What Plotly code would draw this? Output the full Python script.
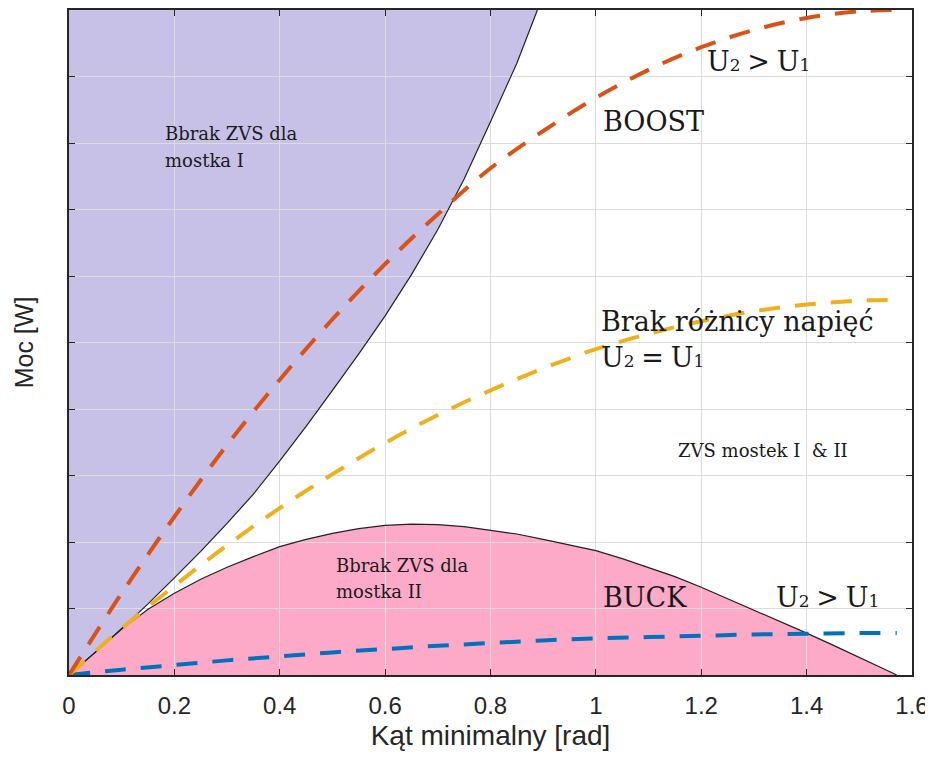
import plotly.graph_objects as go

# ---- data ----
angle = [0, 0.1, 0.2, 0.3, 0.4, 0.5, 0.6, 0.7, 0.8, 0.9, 1.0, 1.1, 1.2, 1.3, 1.4, 1.5, 1.571]
p_boost = [0, 1.23, 2.38, 3.46, 4.44, 5.35, 6.18, 6.93, 7.62, 8.18, 8.68, 9.10, 9.44, 9.70, 9.88, 9.98, 10.0]
p_equal = [0, 0.70, 1.34, 1.95, 2.51, 3.02, 3.49, 3.91, 4.28, 4.61, 4.90, 5.13, 5.32, 5.47, 5.57, 5.63, 5.64]
p_buck = [0, 0.08, 0.15, 0.22, 0.28, 0.34, 0.39, 0.44, 0.48, 0.52, 0.55, 0.57, 0.59, 0.61, 0.62, 0.63, 0.63]

bnd1_x = [0, 0.05, 0.1, 0.15, 0.2, 0.25, 0.3, 0.35, 0.4, 0.45, 0.5, 0.55, 0.6, 0.65, 0.7, 0.75, 0.8, 0.85, 0.889]
bnd1_y = [0, 0.34, 0.70, 1.07, 1.46, 1.86, 2.28, 2.72, 3.22, 3.74, 4.28, 4.83, 5.40, 6.02, 6.70, 7.46, 8.32, 9.20, 10.0]

bnd2_x = [0, 0.05, 0.1, 0.15, 0.2, 0.25, 0.3, 0.35, 0.4, 0.45, 0.5, 0.55, 0.6, 0.65, 0.7, 0.75, 0.8,
          0.85, 0.9, 0.95, 1.0, 1.05, 1.1, 1.15, 1.2, 1.25, 1.3, 1.35, 1.4, 1.45, 1.5, 1.55, 1.571]
bnd2_y = [0, 0.35, 0.69, 0.99, 1.23, 1.44, 1.62, 1.78, 1.93, 2.04, 2.13, 2.20, 2.25, 2.27, 2.26, 2.23, 2.18,
          2.12, 2.04, 1.96, 1.87, 1.75, 1.62, 1.48, 1.32, 1.15, 0.98, 0.81, 0.63, 0.45, 0.27, 0.08, 0]

x_ticks = [0, 0.2, 0.4, 0.6, 0.8, 1.0, 1.2, 1.4, 1.6]
x_tick_labels = ["0", "0.2", "0.4", "0.6", "0.8", "1", "1.2", "1.4", "1.6"]
Y_MAX = 10

PURPLE = "#C7C0E7"
PINK = "#FDAAC8"
C_BOOST = "#D95319"
C_EQUAL = "#EDB120"
C_BUCK = "#0072BD"

fig = go.Figure()

# filled regions as shapes below the grid (grid drawn over them like the reference)
path1 = "M " + " L ".join(f"{x},{y}" for x, y in zip(bnd1_x, bnd1_y)) + f" L 0,{Y_MAX} Z"
path2 = "M " + " L ".join(f"{x},{y}" for x, y in zip(bnd2_x, bnd2_y)) + " Z"
fig.add_shape(type="path", path=path1, xref="x", yref="y", fillcolor=PURPLE,
              line=dict(width=0), layer="below")
fig.add_shape(type="path", path=path2, xref="x", yref="y", fillcolor=PINK,
              line=dict(width=0), layer="below")

fig.add_trace(go.Scatter(x=bnd1_x, y=bnd1_y, mode="lines", line=dict(color="#222222", width=1.2),
                         hoverinfo="skip", showlegend=False))
fig.add_trace(go.Scatter(x=bnd2_x, y=bnd2_y, mode="lines", line=dict(color="#222222", width=1.2),
                         hoverinfo="skip", showlegend=False))

dash = "21px,15px"
for ys, col in [(p_buck, C_BUCK), (p_equal, C_EQUAL), (p_boost, C_BOOST)]:
    fig.add_trace(go.Scatter(x=angle, y=ys, mode="lines", line_shape="spline",
                             line=dict(color=col, width=4, dash=dash),
                             showlegend=False, cliponaxis=True))

serif = "DejaVu Serif"
big = 27
small = 18
tc = "#1a1a1a"
sp = "\u2005"

def sub(d, size=17):
    return f"<span style='font-size:{size}px'>{d}</span>"

u_gt = "U" + sub("2") + sp + "&gt;" + sp + "U" + sub("1")
u_eq = "U" + sub("2") + sp + "=" + sp + "U" + sub("1")

annos = [
    ("Bbrak ZVS dla", 0.178, 8.15, small),
    ("mostka I", 0.178, 7.73, small),
    ("BOOST", 1.010, 8.33, big),
    (u_gt, 1.207, 9.22, big),
    ("Brak różnicy napięć", 1.006, 5.31, big),
    (u_eq, 1.006, 4.78, big),
    ("ZVS mostek I  &amp; II", 1.152, 3.37, small),
    ("Bbrak ZVS dla", 0.503, 1.65, small),
    ("mostka II", 0.503, 1.25, small),
    ("BUCK", 1.010, 1.17, big),
    (u_gt, 1.338, 1.17, big),
]
for txt, x, y, s in annos:
    fig.add_annotation(x=x, y=y, xref="x", yref="y", text=txt, showarrow=False,
                       xanchor="left", yanchor="middle",
                       font=dict(family=serif, size=s, color=tc))

axis_font = "Liberation Sans, Arial, sans-serif"
fig.update_layout(
    width=933, height=758,
    # page body adds an 8px offset; margins compensate so the plot sits where the reference has it
    margin=dict(l=61, r=29, t=2, b=91, autoexpand=False),
    paper_bgcolor="white", plot_bgcolor="white",
    xaxis=dict(range=[0, 1.6], tickvals=x_ticks, ticktext=x_tick_labels,
               showgrid=True, gridcolor="#DCDCDC", gridwidth=1,
               showline=True, linecolor="#262626", linewidth=1.5, mirror="ticks",
               ticks="inside", ticklen=6, tickcolor="#262626", ticklabelstandoff=8,
               tickfont=dict(family=axis_font, size=24, color="#262626"),
               title=dict(text="Kąt minimalny [rad]", standoff=8,
                          font=dict(family=axis_font, size=28, color="#262626")),
               zeroline=False, automargin=False),
    yaxis=dict(range=[0, Y_MAX], dtick=1, showticklabels=False,
               showgrid=True, gridcolor="#DCDCDC", gridwidth=1,
               showline=True, linecolor="#262626", linewidth=1.5, mirror="ticks",
               ticks="inside", ticklen=6, tickcolor="#262626",
               title=dict(text="Moc [W]", standoff=27,
                          font=dict(family=axis_font, size=25, color="#262626")),
               zeroline=False, automargin=False),
)

fig.write_html("out.html")
